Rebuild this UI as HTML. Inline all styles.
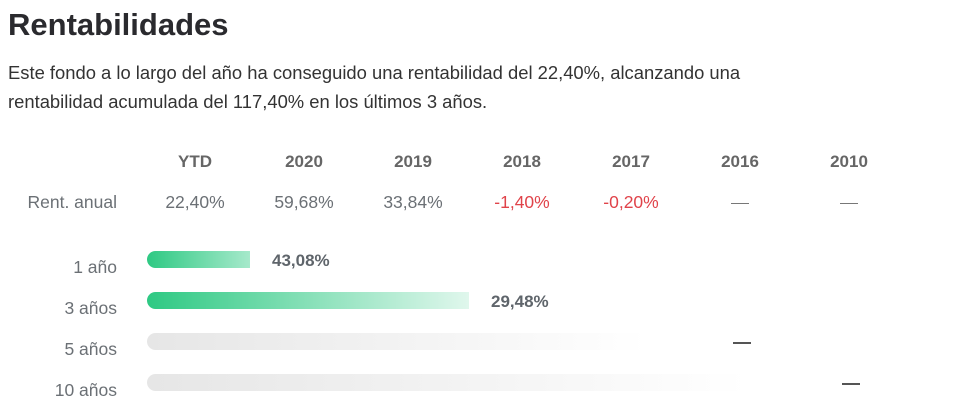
<!DOCTYPE html>
<html><head><meta charset="utf-8"><style>
body{margin:0;width:965px;height:410px;background:#fff;font-family:"Liberation Sans",sans-serif;position:relative;overflow:hidden}
.a{position:absolute;white-space:nowrap}
h1{position:absolute;left:8px;top:7px;margin:0;font-size:31px;font-weight:bold;color:#2a2a2e}
.p{left:8px;font-size:18.4px;color:#333}
.h{font-size:17px;font-weight:bold;color:#666;transform:translateX(-50%)}
.v{font-size:17.5px;color:#6b7075;transform:translateX(-50%)}
.r{color:#e0434a}
.l{font-size:17.5px;color:#6b7075;text-align:right;width:117px;left:0}
.bar{position:absolute;left:147px;height:17px;border-radius:9px 0 0 9px}
.g{background:linear-gradient(90deg,#2ec983,rgba(46,201,131,.15))}
.gr{background:linear-gradient(90deg,#e6e6e6,rgba(235,235,235,0))}
.d{position:absolute;height:2px;width:18px;background:#555}
.b{font-size:17px;font-weight:bold;color:#5f656b}
</style></head><body>
<h1>Rentabilidades</h1>
<div class="a p" style="top:62px">Este fondo a lo largo del año ha conseguido una rentabilidad del 22,40%, alcanzando una</div>
<div class="a p" style="top:91px">rentabilidad acumulada del 117,40% en los últimos 3 años.</div>

<div class="a h" style="left:195px;top:152px">YTD</div>
<div class="a h" style="left:304px;top:152px">2020</div>
<div class="a h" style="left:413px;top:152px">2019</div>
<div class="a h" style="left:522px;top:152px">2018</div>
<div class="a h" style="left:631px;top:152px">2017</div>
<div class="a h" style="left:740px;top:152px">2016</div>
<div class="a h" style="left:849px;top:152px">2010</div>

<div class="a l" style="top:192px">Rent. anual</div>
<div class="a v" style="left:195px;top:192px">22,40%</div>
<div class="a v" style="left:304px;top:192px">59,68%</div>
<div class="a v" style="left:413px;top:192px">33,84%</div>
<div class="a v r" style="left:522px;top:192px">-1,40%</div>
<div class="a v r" style="left:631px;top:192px">-0,20%</div>
<div class="d" style="left:731px;top:203px;height:1px;background:#777"></div>
<div class="d" style="left:840px;top:203px;height:1px;background:#777"></div>

<div class="a l" style="top:257px">1 año</div>
<div class="bar g" style="top:251px;width:103px;background:linear-gradient(90deg,#2ec983,#a6e9cb)"></div>
<div class="a b" style="left:272px;top:251px">43,08%</div>

<div class="a l" style="top:298px">3 años</div>
<div class="bar g" style="top:292px;width:322px"></div>
<div class="a b" style="left:491px;top:292px">29,48%</div>

<div class="a l" style="top:339px">5 años</div>
<div class="bar gr" style="top:333px;width:500px"></div>
<div class="d" style="left:733px;top:342px"></div>

<div class="a l" style="top:380px">10 años</div>
<div class="bar gr" style="top:374px;width:600px"></div>
<div class="d" style="left:842px;top:383px"></div>
</body></html>
